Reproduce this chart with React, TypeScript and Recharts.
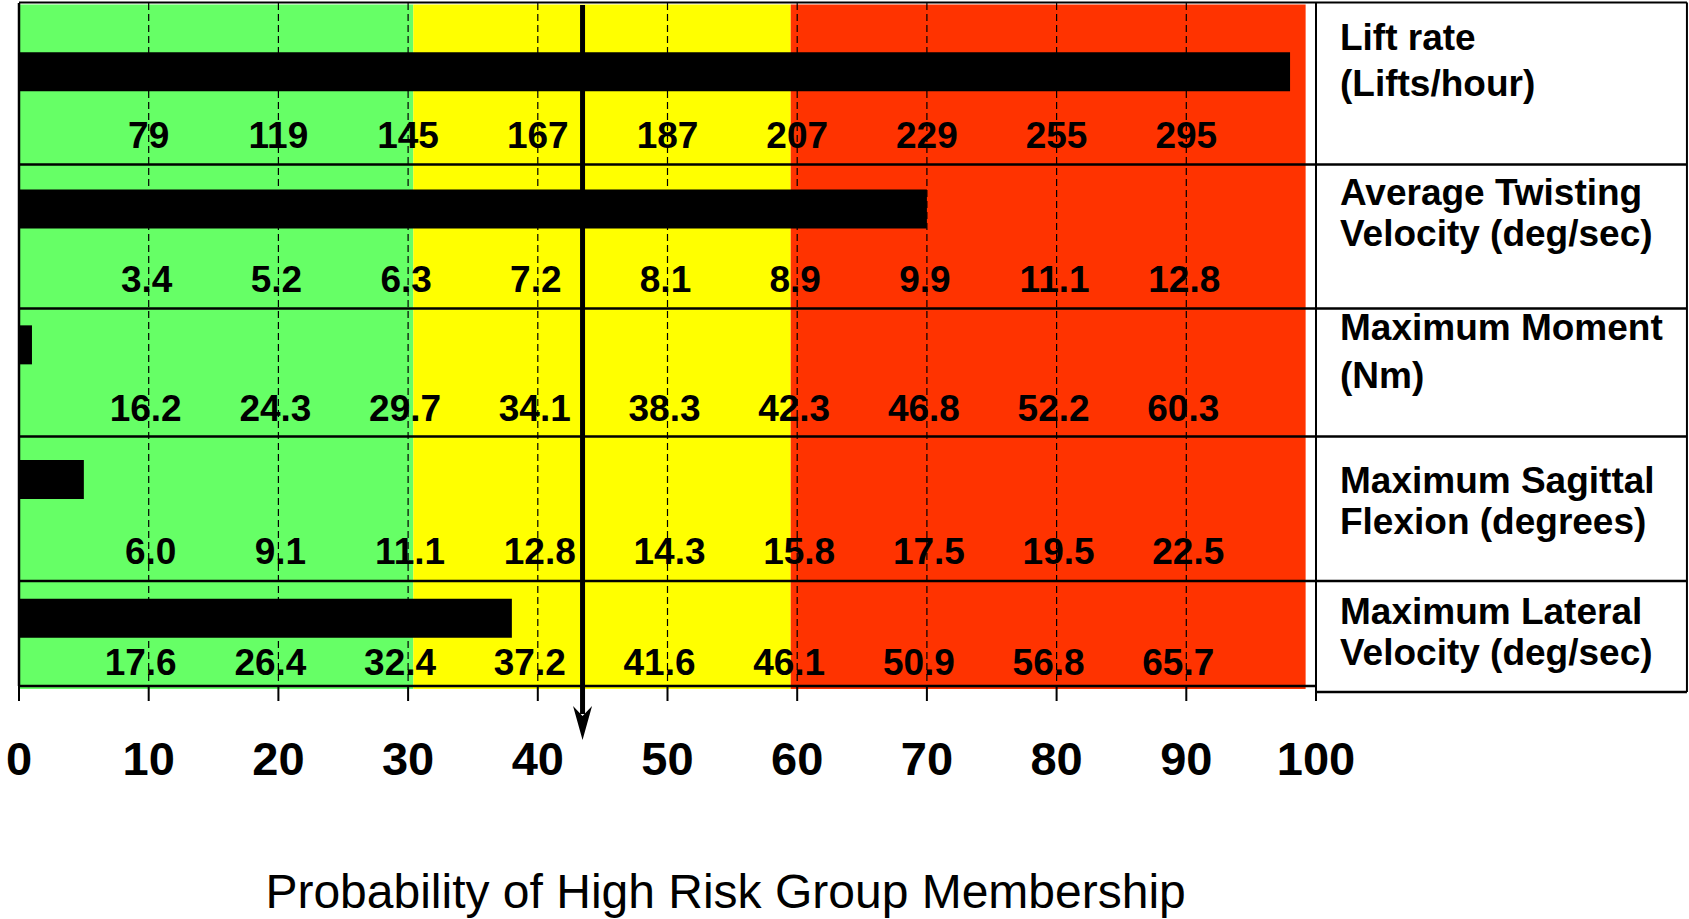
import { Bar, ComposedChart, ReferenceArea, ReferenceDot, ReferenceLine, XAxis, YAxis } from "recharts"

const FONT = "'Liberation Sans', Arial, Helvetica, sans-serif"

// ---- data ----
const factorNames = [
  ["Lift rate", "(Lifts/hour)"],
  ["Average Twisting", "Velocity (deg/sec)"],
  ["Maximum Moment", "(Nm)"],
  ["Maximum Sagittal", "Flexion (degrees)"],
  ["Maximum Lateral", "Velocity (deg/sec)"],
]
const factorProbability = [98, 70, 1, 5, 38]

const liftRateScale = ["79", "119", "145", "167", "187", "207", "229", "255", "295"]
const twistingScale = ["3.4", "5.2", "6.3", "7.2", "8.1", "8.9", "9.9", "11.1", "12.8"]
const momentScale = ["16.2", "24.3", "29.7", "34.1", "38.3", "42.3", "46.8", "52.2", "60.3"]
const sagittalScale = ["6.0", "9.1", "11.1", "12.8", "14.3", "15.8", "17.5", "19.5", "22.5"]
const lateralScale = ["17.6", "26.4", "32.4", "37.2", "41.6", "46.1", "50.9", "56.8", "65.7"]

const scaleTicks = [10, 20, 30, 40, 50, 60, 70, 80, 90]
const probabilityTicks = [0, 10, 20, 30, 40, 50, 60, 70, 80, 90, 100]
const zoneLimits = [0, 30.4, 59.5, 99.2]
const groupProbability = 43.45
const axisTitle = "Probability of High Risk Group Membership"

// ---- layout ----
const W = 1689
const H = 919
const MARGIN = { top: 3, right: 373, bottom: 173, left: 19 }
const XAXIS_H = 60
const PLOT_H = H - MARGIN.top - MARGIN.bottom - XAXIS_H
const BOX_RIGHT = 128.6
const ZONE_COLORS = ["#66ff66", "#ffff00", "#ff3300"]

// vertical positions in plot pixels (y axis runs top to bottom)
const ROW_LINES = [161.5, 305.5, 433.5, 578]
const BAR_Y = [68.7, 205.9, 341.7, 476.4, 615]
const LABEL_Y = [131.7, 275.3, 404, 547.5, 658.6]
const LABEL_DX = [0, -2, -3, 2, -8]
const NAME_Y = [
  [47.4, 93],
  [202, 242.5],
  [337, 385],
  [490, 530.5],
  [621, 662],
]

const rowScales = [liftRateScale, twistingScale, momentScale, sagittalScale, lateralScale]

const barRows = factorNames.map((name, i) => ({
  name: name.join(" "),
  probability: factorProbability[i],
  rowY: BAR_Y[i],
}))

const ProbTick = (props: any) => {
  const { x, y, payload } = props
  return (
    <text x={x} y={y + 72} textAnchor="middle" fontFamily={FONT} fontWeight="bold" fontSize={47} fill="#000">
      {payload.value}
    </text>
  )
}

const Arrow = (props: any) => {
  const { x1, y1, y2 } = props
  return (
    <g>
      <line x1={x1} y1={y1} x2={x1} y2={y2 - 26} stroke="#000" strokeWidth={5} />
      <polygon
        points={`${x1 - 9.5},${y2 - 34} ${x1},${y2 - 24} ${x1 + 9.5},${y2 - 34} ${x1},${y2}`}
        fill="#000"
      />
    </g>
  )
}

const line = { stroke: "#000", strokeWidth: 2.5, ifOverflow: "visible" as const }

export default function App() {
  return (
    <div style={{ position: "absolute", left: 0, top: 0, width: W, height: H, background: "#fff" }}>
      <ComposedChart width={W} height={H} data={barRows} layout="vertical" margin={MARGIN}>
        {zoneLimits.slice(1).map((end, i) => (
          <ReferenceArea
            key={`zone-${i}`}
            x1={zoneLimits[i]}
            x2={end}
            y1={1.5}
            y2={686}
            fill={ZONE_COLORS[i]}
            fillOpacity={1}
            stroke="none"
            ifOverflow="visible"
          />
        ))}
        <XAxis
          type="number"
          domain={[0, 100]}
          ticks={probabilityTicks}
          height={XAXIS_H}
          axisLine={{ stroke: "#000", strokeWidth: 2.5 }}
          tickLine={{ stroke: "#000", strokeWidth: 2 }}
          tickSize={15}
          tick={<ProbTick />}
          interval={0}
        />
        <YAxis type="number" dataKey="rowY" domain={[0, PLOT_H]} hide allowDataOverflow />

        {scaleTicks.map((t) => (
          <ReferenceLine
            key={`grid-${t}`}
            segment={[
              { x: t, y: 0 },
              { x: t, y: PLOT_H },
            ]}
            stroke="#000"
            strokeWidth={1.2}
            strokeDasharray="7 4"
            ifOverflow="visible"
          />
        ))}

        <Bar dataKey="probability" fill="#000" barSize={39} isAnimationActive={false} />

        {/* frame of the plot and the label box */}
        <ReferenceLine segment={[{ x: 0, y: 0 }, { x: 0, y: PLOT_H }]} {...line} />
        <ReferenceLine segment={[{ x: 0, y: -0.5 }, { x: BOX_RIGHT, y: -0.5 }]} {...line} strokeWidth={1.8} />
        <ReferenceLine segment={[{ x: 100, y: -0.5 }, { x: 100, y: PLOT_H + 15 }]} {...line} strokeWidth={2} />
        <ReferenceLine segment={[{ x: BOX_RIGHT, y: -0.5 }, { x: BOX_RIGHT, y: PLOT_H + 6 }]} {...line} strokeWidth={2} />
        <ReferenceLine segment={[{ x: 100, y: PLOT_H + 6 }, { x: BOX_RIGHT, y: PLOT_H + 6 }]} {...line} />
        {ROW_LINES.map((y, i) => (
          <ReferenceLine key={`row-${i}`} segment={[{ x: 0, y }, { x: BOX_RIGHT, y }]} {...line} />
        ))}

        {rowScales.flatMap((labels, r) =>
          labels.map((txt, k) => (
            <ReferenceDot
              key={`val-${r}-${k}`}
              x={scaleTicks[k]}
              y={LABEL_Y[r]}
              r={0}
              ifOverflow="visible"
              shape={(p: any) => (
                <text
                  x={p.cx + LABEL_DX[r]}
                  y={p.cy + 13.5}
                  textAnchor="middle"
                  fontFamily={FONT}
                  fontWeight="bold"
                  fontSize={37}
                  fill="#000"
                >
                  {txt}
                </text>
              )}
            />
          ))
        )}

        {factorNames.map((name, r) => (
          <ReferenceDot
            key={`name-${r}`}
            x={101.85}
            y={NAME_Y[r][0]}
            r={0}
            ifOverflow="visible"
            shape={(p: any) => (
              <text fontFamily={FONT} fontWeight="bold" fontSize={37} fill="#000">
                <tspan x={p.cx} y={p.cy}>
                  {name[0]}
                </tspan>
                <tspan x={p.cx} y={p.cy + NAME_Y[r][1] - NAME_Y[r][0]}>
                  {name[1]}
                </tspan>
              </text>
            )}
          />
        ))}

        <ReferenceLine
          segment={[
            { x: groupProbability, y: 2 },
            { x: groupProbability, y: 737 },
          ]}
          ifOverflow="visible"
          shape={<Arrow />}
        />

        <ReferenceDot
          x={54.48}
          y={905}
          r={0}
          ifOverflow="visible"
          shape={(p: any) => (
            <text x={p.cx} y={p.cy} textAnchor="middle" fontFamily={FONT} fontSize={48} fill="#000">
              {axisTitle}
            </text>
          )}
        />
      </ComposedChart>
    </div>
  )
}
